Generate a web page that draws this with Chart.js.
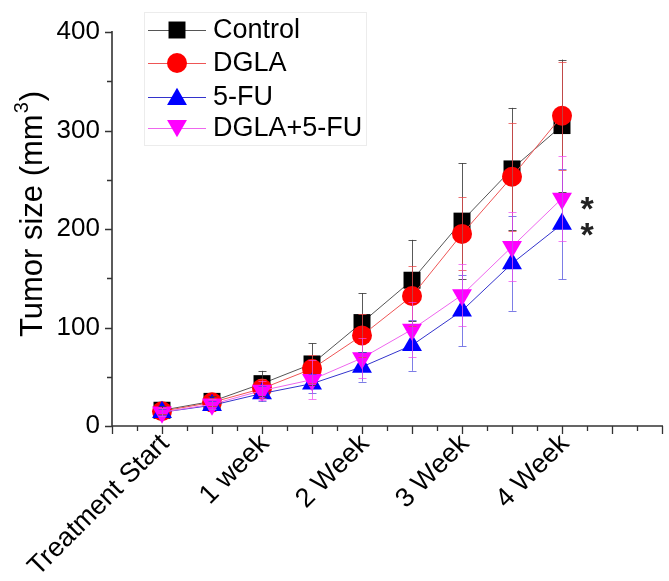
<!DOCTYPE html>
<html>
<head>
<meta charset="utf-8">
<script src="https://cdn.jsdelivr.net/npm/chart.js@4/dist/chart.umd.min.js"></script>
<style>
  html, body { margin: 0; padding: 0; background: #fff; }
  canvas { display: block; }
</style>
</head>
<body>
<canvas id="c" width="669" height="581"></canvas>
<script>
// Measurement points, in half-week steps from the start of treatment
const timePoints = [0, 1, 2, 3, 4, 5, 6, 7, 8];
const tickLabels = { 0: 'Treatment Start', 2: '1 week', 4: '2 Week', 6: '3 Week', 8: '4 Week' };
const AXIS_END = 10;      // last x tick of the time axis
const PX_PER_STEP = 50;   // width of one half-week step

// Tumor volume (mm³), mean and SD per group
const controlMean = [16, 25, 43, 63, 105, 148, 208, 261, 305];
const controlSD   = [4, 5, 13, 21, 30, 41, 59, 62, 67];
const dglaMean    = [15, 24, 38, 58, 92, 132, 195, 253, 315];
const dglaSD      = [3, 4, 10, 14, 22, 30, 37, 55, 55];
const fuMean      = [14, 21, 33, 43, 60, 82, 117, 165, 205];
const fuSD        = [3, 4, 8, 10, 15, 26, 36, 48, 56];
const comboMean   = [14, 22, 36, 47, 69, 98, 133, 182, 231];
const comboSD     = [4, 5, 10, 20, 20, 28, 31, 35, 43];

// Groups marked as significant at the last time point
const significant = [ { group: 3, index: 8 }, { group: 2, index: 8 } ];

const FONT = '"Liberation Sans", Arial, sans-serif';

const groups = [
  { label: 'Control',   mean: controlMean, sd: controlSD, color: '#000000', line: '#555555', bar: 'rgba(60,60,60,0.85)',  style: 'rect',     radius: 12,   rot: 0,   order: 4 },
  { label: 'DGLA',      mean: dglaMean,    sd: dglaSD,    color: '#ff0000', line: '#ee5555', bar: 'rgba(230,70,70,0.75)', style: 'circle',   radius: 10,   rot: 0,   order: 3 },
  { label: '5-FU',      mean: fuMean,      sd: fuSD,      color: '#0000ff', line: '#3333cc', bar: 'rgba(70,70,220,0.7)',  style: 'triangle', radius: 11.5, rot: 0,   order: 2 },
  { label: 'DGLA+5-FU', mean: comboMean,   sd: comboSD,   color: '#ff00ff', line: '#ee66ee', bar: 'rgba(240,70,240,0.7)', style: 'triangle', radius: 11.5, rot: 180, order: 1 }
];

const datasets = groups.map(g => ({
  label: g.label,
  data: timePoints.map((t, i) => ({ x: t, y: g.mean[i] })),
  showLine: true,
  borderColor: g.line,
  borderWidth: 1,
  backgroundColor: g.color,
  pointBackgroundColor: g.color,
  pointBorderColor: g.color,
  pointBorderWidth: 0,
  pointStyle: g.style,
  pointRadius: g.radius,
  pointRotation: g.rot,
  order: g.order,
  clip: false
}));

// Axis lines with major and minor tick marks
const axesPlugin = {
  id: 'axesLines',
  afterDraw(chart) {
    const { ctx, chartArea: a, scales: { x, y } } = chart;
    const xEnd = x.getPixelForValue(AXIS_END);
    ctx.save();
    ctx.strokeStyle = '#333';
    ctx.lineWidth = 1.6;
    ctx.beginPath();
    ctx.moveTo(a.left, a.top - 1);
    ctx.lineTo(a.left, a.bottom);
    ctx.lineTo(xEnd + 1, a.bottom);
    ctx.stroke();
    ctx.lineWidth = 1.3;
    ctx.beginPath();
    for (let v = 0; v <= 400; v += 50) {
      const py = Math.round(y.getPixelForValue(v)) + 0.5;
      const len = v % 100 === 0 ? 7 : 5;
      ctx.moveTo(a.left, py);
      ctx.lineTo(a.left - len, py);
    }
    for (let v = x.min; v <= AXIS_END + 1e-9; v += 0.5) {
      const px = Math.round(x.getPixelForValue(v)) + 0.5;
      const len = Number.isInteger(v) ? 8 : 5;
      ctx.moveTo(px, a.bottom);
      ctx.lineTo(px, a.bottom + len);
    }
    ctx.stroke();
    ctx.restore();
  }
};

// Mean ± SD bars for every group
const errorBarPlugin = {
  id: 'errorBars',
  afterDatasetsDraw(chart) {
    const { ctx, scales: { x, y } } = chart;
    ctx.save();
    ctx.lineWidth = 1;
    groups.forEach(g => {
      ctx.strokeStyle = g.bar;
      ctx.beginPath();
      timePoints.forEach((t, i) => {
        const px = Math.round(x.getPixelForValue(t)) + 0.5;
        const top = y.getPixelForValue(g.mean[i] + g.sd[i]);
        const bot = y.getPixelForValue(g.mean[i] - g.sd[i]);
        ctx.moveTo(px, top); ctx.lineTo(px, bot);
        ctx.moveTo(px - 4, Math.round(top) + 0.5); ctx.lineTo(px + 4, Math.round(top) + 0.5);
        ctx.moveTo(px - 4, Math.round(bot) + 0.5); ctx.lineTo(px + 4, Math.round(bot) + 0.5);
      });
      ctx.stroke();
    });
    ctx.restore();
  }
};

// Legend box, axis title and significance stars
const annotationPlugin = {
  id: 'annotations',
  afterDraw(chart) {
    const { ctx, scales: { x, y } } = chart;
    ctx.save();

    // legend
    ctx.fillStyle = '#fff';
    ctx.strokeStyle = '#ececec';
    ctx.lineWidth = 1;
    ctx.fillRect(144, 12, 222, 133);
    ctx.strokeRect(144.5, 12.5, 222, 133);
    const rows = [30, 63, 97, 128];
    groups.forEach((g, i) => {
      const ry = rows[i];
      ctx.strokeStyle = g.line;
      ctx.lineWidth = 1;
      ctx.beginPath();
      ctx.moveTo(148, ry + 0.5);
      ctx.lineTo(206, ry + 0.5);
      ctx.stroke();
      ctx.fillStyle = g.color;
      ctx.beginPath();
      if (g.style === 'rect') {
        const s = g.radius * Math.SQRT1_2;
        ctx.rect(177 - s, ry - s, 2 * s, 2 * s);
      } else if (g.style === 'circle') {
        ctx.arc(177, ry, g.radius, 0, Math.PI * 2);
      } else {
        const r = g.radius, dir = g.rot ? -1 : 1;
        const cy = ry + dir * r * 0.2;
        ctx.moveTo(177, cy - dir * r);
        ctx.lineTo(177 + r * 0.866, cy + dir * r * 0.5);
        ctx.lineTo(177 - r * 0.866, cy + dir * r * 0.5);
        ctx.closePath();
      }
      ctx.fill();
      ctx.fillStyle = '#000';
      ctx.font = '27px ' + FONT;
      ctx.textBaseline = 'middle';
      ctx.textAlign = 'left';
      ctx.fillText(g.label, 213, ry + 1);
    });

    // y-axis title with superscript
    ctx.translate(33, 214);
    ctx.rotate(-Math.PI / 2);
    ctx.fillStyle = '#000';
    ctx.textBaseline = 'middle';
    ctx.textAlign = 'left';
    const main = 'Tumor size (mm';
    ctx.font = '31px ' + FONT;
    const wMain = ctx.measureText(main).width;
    ctx.font = '20px ' + FONT;
    const wSup = ctx.measureText('3').width;
    ctx.font = '31px ' + FONT;
    const wClose = ctx.measureText(')').width;
    let sx = -(wMain + wSup + wClose + 2) / 2;
    ctx.fillText(main, sx, 0);
    sx += wMain + 1;
    ctx.font = '20px ' + FONT;
    ctx.fillText('3', sx, -11);
    sx += wSup + 1;
    ctx.font = '31px ' + FONT;
    ctx.fillText(')', sx, 0);
    ctx.setTransform(1, 0, 0, 1, 0, 0);

    // significance stars
    ctx.fillStyle = '#222';
    ctx.font = 'bold 34px ' + FONT;
    ctx.textAlign = 'center';
    ctx.textBaseline = 'alphabetic';
    significant.forEach(s => {
      const g = groups[s.group];
      const px = x.getPixelForValue(timePoints[s.index]) + 25;
      const py = y.getPixelForValue(g.mean[s.index]);
      ctx.fillText('*', px, py + 22);
    });
    ctx.restore();
  }
};

const chart = new Chart(document.getElementById('c'), {
  type: 'scatter',
  data: { datasets },
  plugins: [errorBarPlugin, axesPlugin, annotationPlugin],
  options: {
    responsive: false,
    animation: false,
    devicePixelRatio: 1,
    layout: { padding: { top: 32, right: 0, left: 0, bottom: 0 } },
    plugins: { legend: { display: false }, tooltip: { enabled: false } },
    scales: {
      x: {
        type: 'linear',
        min: -1,
        max: AXIS_END,
        border: { display: false },
        grid: { display: false, drawTicks: true, tickLength: 2 },
        afterBuildTicks(scale) {
          const t = [];
          for (let v = -1; v <= scale.max + 1e-9; v += 0.5) t.push({ value: v });
          scale.ticks = t;
        },
        afterFit(scale) {
          scale.height = 155;
          scale.paddingLeft = 0;
          scale.paddingRight = 0;
        },
        ticks: {
          autoSkip: false,
          minRotation: 45,
          maxRotation: 45,
          padding: 0,
          labelOffset: 3,
          color: '#000',
          font: { family: FONT, size: 27 },
          callback: v => tickLabels[v] || ''
        }
      },
      y: {
        type: 'linear',
        min: 0,
        max: 400,
        border: { display: false },
        grid: { display: false, drawTicks: true, tickLength: 7 },
        afterBuildTicks(scale) {
          const t = [];
          for (let v = 0; v <= 400; v += 50) t.push({ value: v });
          scale.ticks = t;
        },
        afterFit(scale) { scale.width = 112; },
        ticks: {
          padding: 5,
          color: '#000',
          font: { family: FONT, size: 26 },
          callback: v => (v % 100 === 0 ? String(v) : '')
        }
      }
    }
  }
});

// Keep one half-week step at a fixed pixel width, whatever room the layout leaves
const area = chart.chartArea;
chart.options.scales.x.max = -1 + (area.right - area.left) / PX_PER_STEP;
chart.update();
</script>
</body>
</html>
